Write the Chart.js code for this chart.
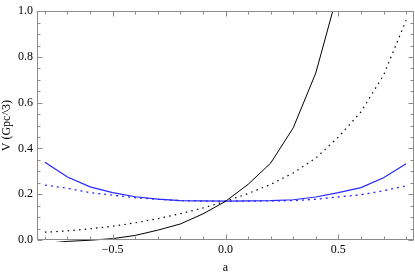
<!DOCTYPE html>
<html>
<head>
<meta charset="utf-8">
<script src="https://cdn.jsdelivr.net/npm/chart.js@4.4.0/dist/chart.umd.min.js"></script>
<style>
  html, body { margin: 0; padding: 0; background: #fff; }
  #chart-1 { display: block; }
</style>
</head>
<body>
<canvas id="chart-1" width="415" height="275"></canvas>
<script>
  const aValues = [-0.8, -0.7, -0.6, -0.5, -0.4, -0.3, -0.2, -0.1, 0.0, 0.1, 0.2, 0.3, 0.4, 0.5, 0.6, 0.7, 0.8];

  const blackSolid = [-0.015, -0.006, -0.001, 0.006, 0.020, 0.043, 0.070, 0.114, 0.169, 0.243, 0.336, 0.490, 0.730, 1.09, 1.60, 2.35, 3.40];
  const blackDotted = [0.034, 0.040, 0.049, 0.060, 0.075, 0.093, 0.115, 0.140, 0.169, 0.203, 0.243, 0.293, 0.358, 0.450, 0.560, 0.720, 0.960];
  const blueSolid = [0.340, 0.275, 0.232, 0.207, 0.189, 0.179, 0.172, 0.171, 0.170, 0.171, 0.172, 0.176, 0.188, 0.207, 0.229, 0.272, 0.333];
  const blueDotted = [0.240, 0.226, 0.207, 0.196, 0.185, 0.178, 0.172, 0.170, 0.170, 0.170, 0.171, 0.172, 0.178, 0.188, 0.198, 0.215, 0.237];

  const xTickValues = [-0.5, 0.0, 0.5];
  const yTickValues = [0.0, 0.2, 0.4, 0.6, 0.8, 1.0];

  const toPoints = (ys) => aValues.map((a, i) => ({ x: a, y: ys[i] }));
  const fmt = (v) => (v < 0 ? '\u2212' : '') + Math.abs(v).toFixed(1);

  // Mathematica-style frame with inward ticks on all four sides
  const frameTicks = {
    id: 'frameTicks',
    afterDatasetsDraw(chart) {
      const { ctx, chartArea: ca, scales: { x, y } } = chart;
      const L = Math.round(ca.left) + 0.5, R = Math.round(ca.right) - 0.5;
      const T = Math.round(ca.top) + 0.5, B = Math.round(ca.bottom) - 0.5;
      ctx.save();
      ctx.strokeStyle = '#8c8c8c';
      ctx.lineWidth = 1;
      ctx.strokeRect(L, T, R - L, B - T);
      ctx.beginPath();
      for (let i = -8; i <= 8; i++) {
        const v = i / 10;
        const px = Math.round(x.getPixelForValue(v)) + 0.5;
        const len = (i % 5 === 0) ? 5 : 3;
        ctx.moveTo(px, B); ctx.lineTo(px, B - len);
        ctx.moveTo(px, T); ctx.lineTo(px, T + len);
      }
      for (let i = 0; i <= 20; i++) {
        const v = i / 20;
        const py = Math.round(y.getPixelForValue(v)) + 0.5;
        const len = (i % 4 === 0) ? 5 : 3;
        ctx.moveTo(L, py); ctx.lineTo(L + len, py);
        ctx.moveTo(R, py); ctx.lineTo(R - len, py);
      }
      ctx.stroke();
      ctx.restore();
    }
  };

  const fData = {
    datasets: [
      {
        label: 'black solid',
        data: toPoints(blackSolid),
        borderColor: '#000',
        borderWidth: 1,
        clip: { left: 0, top: 0, right: 0, bottom: 2 }
      },
      {
        label: 'black dotted',
        data: toPoints(blackDotted),
        borderColor: '#000',
        borderWidth: 1.2,
        borderDash: [1.5, 4.2]
      },
      {
        label: 'blue solid',
        data: toPoints(blueSolid),
        borderColor: 'rgb(40, 40, 255)',
        borderWidth: 1.2
      },
      {
        label: 'blue dotted',
        data: toPoints(blueDotted),
        borderColor: 'rgb(40, 40, 255)',
        borderWidth: 1.3,
        borderDash: [2, 4]
      }
    ]
  };

  const tickFont = { family: '"Liberation Serif", "DejaVu Serif", serif', size: 12 };

  const fConfig = {
    type: 'line',
    data: fData,
    plugins: [frameTicks],
    options: {
      responsive: false,
      animation: false,
      layout: { padding: { top: 7, right: 1, left: 0, bottom: 0 } },
      elements: {
        point: { radius: 0 },
        line: { tension: 0, fill: false }
      },
      plugins: {
        legend: { display: false },
        tooltip: { enabled: false }
      },
      scales: {
        x: {
          type: 'linear',
          min: -0.835,
          max: 0.835,
          grid: { display: false, drawTicks: false },
          border: { display: false },
          afterBuildTicks: (s) => { s.ticks = xTickValues.map(v => ({ value: v })); },
          afterFit: (s) => { s.height = 35; },
          ticks: {
            color: '#000',
            font: tickFont,
            padding: 3,
            maxRotation: 0,
            callback: (v) => fmt(v)
          },
          title: {
            display: true,
            text: 'a',
            color: '#000',
            font: tickFont,
            padding: { top: 3, bottom: 0 }
          }
        },
        y: {
          type: 'linear',
          min: 0,
          max: 1,
          grid: { display: false, drawTicks: false },
          border: { display: false },
          afterBuildTicks: (s) => { s.ticks = yTickValues.map(v => ({ value: v })); },
          afterFit: (s) => { s.width = 37; },
          ticks: {
            color: '#000',
            font: tickFont,
            padding: 4,
            callback: (v) => fmt(v)
          },
          title: {
            display: true,
            text: 'V (Gpc^3)',
            color: '#000',
            font: tickFont,
            padding: { top: 0, bottom: 0 }
          }
        }
      }
    }
  };

  const chart1 = new Chart(document.getElementById('chart-1'), fConfig);
</script>
</body>
</html>
